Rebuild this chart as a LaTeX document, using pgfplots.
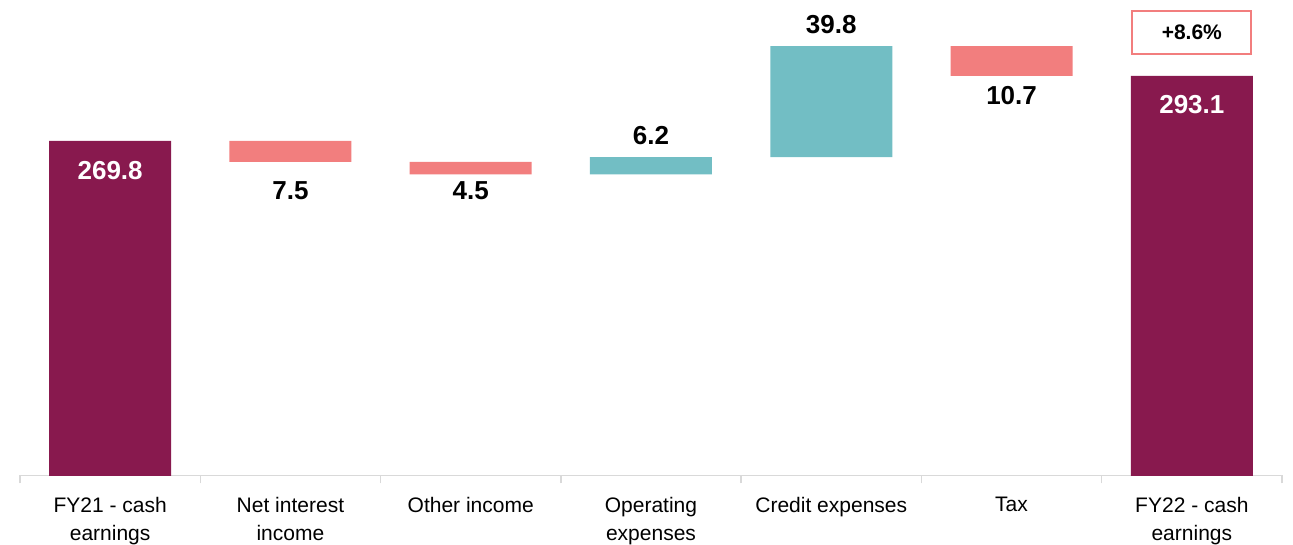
\documentclass[border=0pt]{standalone}
\usepackage{fontspec}
\setmainfont{Liberation Sans}
\usepackage{pgfplots}
\pgfplotsset{compat=1.18}
\definecolor{cpurple}{RGB}{136,25,78}
\definecolor{cred}{RGB}{242,126,126}
\definecolor{cteal}{RGB}{114,190,196}
\definecolor{axisgray}{RGB}{217,217,217}
\tikzset{vlab/.style={font=\fontsize{26}{30}\selectfont\bfseries}}
\begin{document}
\begin{tikzpicture}
\begin{axis}[
  scale only axis, width=1262pt, height=475.5pt,
  xmin=-0.5, xmax=6.5, ymin=150, ymax=320.3,
  ybar stacked, bar width=122pt,
  axis x line*=bottom, axis y line=none,
  x axis line style={draw=axisgray, line width=1.5pt, -},
  xtick={0,...,6},
  xticklabels={{FY21 - cash\\earnings},{Net interest\\income},{Other income},{Operating\\expenses},{Credit expenses},{Tax},{FY22 - cash\\earnings}},
  major tick length=0pt,
  minor xtick={-0.5,0.5,...,6.5}, minor tick length=8pt, tick align=outside,
  minor tick style={draw=axisgray, line width=1.5pt},
  xticklabel style={font=\fontsize{21}{28}\selectfont, align=center, yshift=-18pt},
]
\addplot[draw=none, fill=white, fill opacity=0] coordinates {(0,0) (1,262.3) (2,257.8) (3,257.8) (4,264) (5,293.1) (6,0)};
\addplot[draw=none, fill=cpurple] coordinates {(0,269.8) (1,0) (2,0) (3,0) (4,0) (5,0) (6,293.1)};
\addplot[draw=none, fill=cred] coordinates {(0,0) (1,7.5) (2,4.5) (3,0) (4,0) (5,10.7) (6,0)};
\addplot[draw=none, fill=cteal] coordinates {(0,0) (1,0) (2,0) (3,6.2) (4,39.8) (5,0) (6,0)};
\coordinate (l0) at (axis cs:0,259.3);
\coordinate (l1) at (axis cs:1,252.0);
\coordinate (l2) at (axis cs:2,252.0);
\coordinate (l3) at (axis cs:3,271.6);
\coordinate (l4) at (axis cs:4,311.4);
\coordinate (l5) at (axis cs:5,285.9);
\coordinate (l6) at (axis cs:6,282.7);
\coordinate (bx) at (axis cs:6,308.7);
\end{axis}
\node[vlab, text=white] at (l0) {269.8};
\node[vlab] at (l1) {7.5};
\node[vlab] at (l2) {4.5};
\node[vlab] at (l3) {6.2};
\node[vlab] at (l4) {39.8};
\node[vlab] at (l5) {10.7};
\node[vlab, text=white] at (l6) {293.1};
\node[draw=cred, line width=2pt, fill=white, minimum width=119pt, minimum height=43pt, font=\fontsize{21}{25}\selectfont\bfseries] at (bx) {+8.6\%};
\pgfresetboundingbox
\path[use as bounding box] (-20pt,-69.5pt) rectangle (1273pt,475.5pt);
\end{tikzpicture}
\end{document}
